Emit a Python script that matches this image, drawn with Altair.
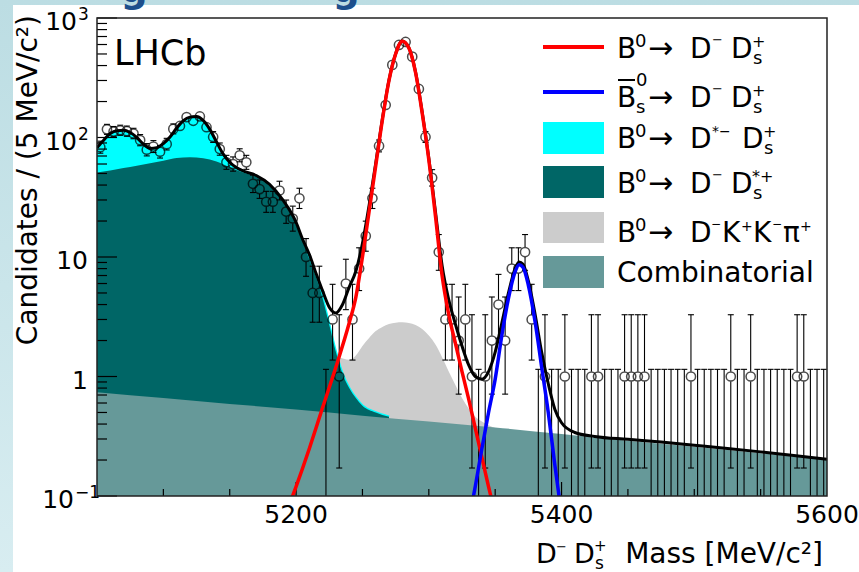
import math
import altair as alt
import pandas as pd

FONT = "DejaVu Sans"
W, H = 730, 478          # plot area
L, T = 97, 18            # plot origin on the page
PR, PB = 32, 76          # right / bottom padding

# ---------------- data ----------------
bin_width = 5
first_center = 5052.5
counts = [83, 117, 112, 115, 113, 108, 95, 79, 84, 76,
          88, 118, 125, 148, 138, 150, 122, 101, 80, 62,
          60, 71, 62, 41, 37, 29, 29, 36, 24, 21,
          31, 10, 5, 5, 0, 3, 1, 6, 3, 8,
          15, 31, 85, 187, 405, 595, 630, 475, 255, 101,
          46, 11, 3, 3, 2, 3, 1, 0, 1, 2,
          4, 2, 8, 8, 11, 3, 0, 1, 0, 0,
          1, 0, 0, 0, 1, 1, 0, 0, 0, 1,
          1, 1, 1, 0, 0, 0, 0, 0, 0, 1,
          0, 0, 0, 0, 0, 1, 0, 0, 1, 0,
          0, 0, 0, 0, 0, 1, 1, 0, 0, 0]

comb_m = [5050, 5100, 5150, 5200, 5250, 5300, 5350, 5400, 5450, 5500, 5550, 5600]
comb_v = [0.74, 0.66, 0.59, 0.53, 0.47, 0.42, 0.375, 0.33, 0.29, 0.258, 0.228, 0.2]

dsstar_m = [5050, 5060, 5070, 5080, 5090, 5100, 5110, 5120, 5130, 5140, 5150, 5160, 5170, 5180, 5190,
            5195, 5200, 5205, 5210, 5215, 5220, 5225, 5230, 5235, 5240, 5245, 5250, 5260, 5270]
dsstar_v = [51, 53, 55.5, 58, 61, 64, 67.5, 68.5, 67, 63, 56.5, 51, 46.5, 39, 29,
            24, 18.5, 13.5, 9.5, 6.8, 4.5, 2.7, 1.6, 1.05, 0.8, 0.66, 0.57, 0.5, 0.46]

dstar_m = [5050, 5055, 5060, 5065, 5070, 5075, 5080, 5085, 5090, 5095, 5100, 5105, 5110, 5115, 5120,
           5125, 5130, 5135, 5140, 5145, 5150, 5155, 5160, 5170, 5180, 5190, 5200, 5210, 5220, 5225]
dstar_v = [82, 95, 108, 114, 115, 110, 100, 88, 81, 82, 89, 101, 120, 138, 148,
           150, 139, 117, 92, 73, 62, 56, 52.5, 48, 40.5, 30, 19.2, 10, 4.8, 2.8]

kkpi_m = [5190, 5210, 5225, 5232, 5240, 5245, 5250, 5255, 5260, 5265, 5270, 5280, 5290, 5295, 5300,
          5305, 5310, 5315, 5320, 5325, 5330, 5335, 5340, 5345, 5350]
kkpi_v = [1.0, 1.4, 1.5, 1.45, 1.38, 1.5, 1.8, 2.1, 2.4, 2.6, 2.75, 2.85, 2.7, 2.5, 2.2,
          1.85, 1.45, 1.1, 0.85, 0.66, 0.54, 0.46, 0.42, 0.39, 0.37]

bd_m = [5195, 5200, 5210, 5220, 5230, 5240, 5245, 5250, 5255, 5260, 5265, 5270, 5275, 5280, 5285,
        5290, 5295, 5300, 5305, 5310, 5315, 5320, 5325, 5330, 5335, 5340, 5345, 5350]
bd_v = [0.085, 0.12, 0.25, 0.55, 1.2, 2.8, 4.6, 10, 24, 58, 140, 300, 500, 640, 560,
        350, 160, 65, 22, 7, 3.3, 1.9, 1.1, 0.65, 0.37, 0.21, 0.12, 0.07]

bs_m = [5332, 5335, 5340, 5345, 5350, 5355, 5360, 5365, 5368, 5371, 5375, 5380, 5385, 5390, 5395, 5400]
bs_v = [0.08, 0.12, 0.25, 0.5, 0.95, 2.2, 4.5, 7.5, 8.6, 8.2, 5.8, 2.9, 1.2, 0.5, 0.18, 0.07]

tot_m = [5050, 5055, 5060, 5065, 5070, 5075, 5080, 5085, 5090, 5095, 5100, 5105, 5110, 5115, 5120,
         5125, 5130, 5135, 5140, 5145, 5150, 5155, 5160, 5170, 5180, 5190,
         5200, 5205, 5210, 5215, 5220, 5225, 5230, 5235, 5240, 5245,
         5250, 5255, 5260, 5265, 5270, 5275, 5280, 5285, 5290, 5295,
         5300, 5305, 5310, 5315, 5320, 5325, 5330, 5335, 5340, 5345,
         5350, 5355, 5360, 5365, 5368, 5371, 5375, 5380, 5385, 5390, 5395, 5400,
         5410, 5425, 5450, 5475, 5500, 5525, 5550, 5575, 5600]
tot_v = [82, 95, 108, 114, 115, 110, 100, 88, 81, 82, 89, 101, 120, 138, 148,
         150, 139, 117, 92, 73, 62, 56, 52.5, 48, 40.5, 30,
         19.5, 14, 10.5, 7.3, 5.2, 3.8, 3.4, 4.0, 5.6, 7.6,
         13, 27, 61, 143, 303, 503, 643, 563, 353, 163,
         67, 24, 8.5, 4.4, 2.75, 1.8, 1.25, 1.0, 0.95, 1.1,
         1.6, 2.8, 5.0, 8.0, 9.1, 8.7, 6.3, 3.35, 1.6, 0.87, 0.53, 0.41,
         0.34, 0.315, 0.298, 0.283, 0.266, 0.25, 0.234, 0.218, 0.203]

x_labels = [5200, 5400, 5600]
x_major = [5200, 5400]
x_minor = [5100, 5150, 5250, 5300, 5350, 5450, 5500, 5550]
y_major = [0.1, 1, 10, 100, 1000]
y_minor = [d * s for d in (0.1, 1, 10, 100) for s in range(2, 10)]

# ---------------- scales ----------------
Y_MIN, Y_MAX = 0.1, 1000
xsc = alt.Scale(domain=[5050, 5600], nice=False, zero=False)
ysc = alt.Scale(type="log", domain=[Y_MIN, Y_MAX], nice=False)
X = lambda f: alt.X(f, type="quantitative", scale=xsc, axis=None)
Y = lambda f: alt.Y(f, type="quantitative", scale=ysc, axis=None, stack=None)
Y2 = lambda f: alt.Y2(f)

one = pd.DataFrame({"d": [0]})


def curve(ms, vs):
    return pd.DataFrame({"m": ms, "v": vs, "b": [Y_MIN] * len(ms)})


def poisson_interval(n):
    if n == 0:
        return 0.0, 1.148
    lo = n * (1 - 1 / (9 * n) - 1 / (3 * math.sqrt(n))) ** 3
    k = n + 1
    hi = k * (1 - 1 / (9 * k) + 1 / (3 * math.sqrt(k))) ** 3
    return lo, hi


GAP = 1.10   # marker radius in log units (visual gap for the open circle)
seg_rows, cap_rows, pt_rows = [], [], []
for i, n in enumerate(counts):
    m = first_center + bin_width * i
    lo, hi = poisson_interval(n)
    lo = max(lo, Y_MIN)
    if n == 0:
        seg_rows.append({"m": m, "a": Y_MIN, "b": hi})
        cap_rows.append({"m": m, "m2": m, "v": hi})
        continue
    pt_rows.append({"m": m, "v": n})
    if hi > n * GAP:
        seg_rows.append({"m": m, "a": n * GAP, "b": hi})
        cap_rows.append({"m": m, "m2": m, "v": hi})
    if lo < n / GAP:
        seg_rows.append({"m": m, "a": lo, "b": n / GAP})
        if lo > Y_MIN:
            cap_rows.append({"m": m, "m2": m, "v": lo})
segs = pd.DataFrame(seg_rows)
caps = pd.DataFrame(cap_rows)
pts = pd.DataFrame(pt_rows)

# ---------------- colours ----------------
C_CYAN = "#00ffff"
C_TEAL = "#006666"
C_GREY = "#cccccc"
C_COMB = "#669999"

layers = []

# page background (slide)
layers.append(alt.Chart(one).mark_rect(
    color=alt.Gradient(gradient="linear",
                       stops=[alt.GradientStop(color="#bcdde3", offset=0),
                              alt.GradientStop(color="#d8edf1", offset=1)],
                       x1=0, x2=0, y1=0, y2=1)).encode(
    x=alt.value(-L), x2=alt.value(W + PR), y=alt.value(-T), y2=alt.value(H + PB)))
layers.append(alt.Chart(one).mark_rect(color="white").encode(
    x=alt.value(13 - L), x2=alt.value(W + PR), y=alt.value(5 - T), y2=alt.value(H + PB)))
# cut-off slide title fragments
for gx in (134, 346):
    layers.append(alt.Chart(one).mark_text(text="g", font=FONT, fontSize=38, fontWeight="bold",
                                           color="#1d4f8c", align="center", baseline="alphabetic").encode(
        x=alt.value(gx - L), y=alt.value(2 - T)))


def area(ms, vs, color):
    return alt.Chart(curve(ms, vs)).mark_area(color=color, interpolate="monotone", clip=True,
                                              opacity=1).encode(
        x=X("m"), y=Y("v"), y2=Y2("b"))


def line(ms, vs, color, sw):
    return alt.Chart(curve(ms, vs)).mark_line(color=color, strokeWidth=sw, interpolate="monotone",
                                              clip=True).encode(x=X("m"), y=Y("v"))


layers.append(area(kkpi_m, kkpi_v, C_GREY))
layers.append(area(dstar_m, dstar_v, C_CYAN))
layers.append(line(dsstar_m, dsstar_v, C_CYAN, 2.5))   # thin cyan rim along the D_s*+ edge
layers.append(area(dsstar_m, dsstar_v, C_TEAL))
layers.append(area(comb_m, comb_v, C_COMB))

# ticks (inside the frame)
layers.append(alt.Chart(pd.DataFrame({"v": y_major})).mark_rule(color="black", strokeWidth=1.2).encode(
    y=Y("v"), x=alt.value(0), x2=alt.value(20)))
layers.append(alt.Chart(pd.DataFrame({"v": y_minor})).mark_rule(color="black", strokeWidth=1.2).encode(
    y=Y("v"), x=alt.value(0), x2=alt.value(10)))
layers.append(alt.Chart(pd.DataFrame({"m": x_major})).mark_rule(color="black", strokeWidth=1.2).encode(
    x=X("m"), y=alt.value(H), y2=alt.value(H - 14)))
layers.append(alt.Chart(pd.DataFrame({"m": x_minor})).mark_rule(color="black", strokeWidth=1.2).encode(
    x=X("m"), y=alt.value(H), y2=alt.value(H - 7)))

# data: error bars, caps, open circles
layers.append(alt.Chart(segs).mark_rule(color="black", strokeWidth=1.1, clip=True).encode(
    x=X("m"), y=Y("a"), y2=Y2("b")))
layers.append(alt.Chart(caps).mark_rule(color="black", strokeWidth=1.1, xOffset=-3, x2Offset=3).encode(
    x=X("m"), x2=alt.X2("m2"), y=Y("v")))
layers.append(alt.Chart(pts).mark_point(shape="circle", filled=False, size=85, color="black",
                                        strokeWidth=1.5, clip=True).encode(x=X("m"), y=Y("v")))

layers.append(line(tot_m, tot_v, "black", 3))
layers.append(line(bd_m, bd_v, "#ff0000", 3.5))
layers.append(line(bs_m, bs_v, "#0000ff", 3.5))

# frame
layers.append(alt.Chart(one).mark_rect(fillOpacity=0, stroke="#222222", strokeWidth=1.5).encode(
    x=alt.value(0), x2=alt.value(W), y=alt.value(0), y2=alt.value(H)))

# axis labels
layers.append(alt.Chart(pd.DataFrame({"m": x_labels, "t": [str(v) for v in x_labels]})).mark_text(
    font=FONT, fontSize=25, align="center", baseline="alphabetic", color="black").encode(
    x=X("m"), y=alt.value(H + 27), text="t:N"))
layers.append(alt.Chart(pd.DataFrame({"v": [1, 10], "t": ["1", "10"]})).mark_text(
    font=FONT, fontSize=25, align="right", baseline="alphabetic", dy=12, color="black").encode(
    y=Y("v"), x=alt.value(-9), text="t:N"))
layers.append(alt.Chart(pd.DataFrame({"v": [100, 1000], "t": ["10", "10"]})).mark_text(
    font=FONT, fontSize=25, align="right", baseline="alphabetic", dy=12, color="black").encode(
    y=Y("v"), x=alt.value(-20), text="t:N"))
layers.append(alt.Chart(pd.DataFrame({"v": [100, 1000], "t": ["2", "3"]})).mark_text(
    font=FONT, fontSize=17, align="left", baseline="alphabetic", dy=2, color="black").encode(
    y=Y("v"), x=alt.value(-19), text="t:N"))
layers.append(alt.Chart(pd.DataFrame({"v": [0.1], "t": ["10"]})).mark_text(
    font=FONT, fontSize=25, align="right", baseline="alphabetic", dy=12, color="black").encode(
    y=Y("v"), x=alt.value(-23), text="t:N"))
layers.append(alt.Chart(pd.DataFrame({"v": [0.1], "t": ["−1"]})).mark_text(
    font=FONT, fontSize=17, align="left", baseline="alphabetic", dy=2, color="black").encode(
    y=Y("v"), x=alt.value(-22), text="t:N"))


def txt(t, px, py, fs=28, align="left", angle=0):
    kw = {"angle": angle} if angle else {}
    return alt.Chart(one).mark_text(text=t, font=FONT, fontSize=fs, align=align, baseline="alphabetic",
                                    color="black", **kw).encode(x=alt.value(px - L), y=alt.value(py - T))


# axis titles
layers.append(txt("Candidates / (5 MeV/c²)", 37, 15, fs=28, align="right", angle=270))
layers.append(txt("D", 536, 563, fs=27))
layers.append(txt("−", 556, 551, fs=13))
layers.append(txt("D", 574, 563, fs=27))
layers.append(txt("+", 594, 551, fs=15))
layers.append(txt("s", 595, 569, fs=17))
layers.append(txt("Mass [MeV/c²]", 823, 563, fs=28, align="right"))

# LHCb label
layers.append(txt("LHCb", 114, 65, fs=35))

# legend samples
LX0, LX1 = 543, 604
layers.append(alt.Chart(one).mark_rule(color="#ff0000", strokeWidth=4).encode(
    x=alt.value(LX0 - L), x2=alt.value(LX1 - L), y=alt.value(47 - T)))
layers.append(alt.Chart(one).mark_rule(color="#0000ff", strokeWidth=4).encode(
    x=alt.value(LX0 - L), x2=alt.value(LX1 - L), y=alt.value(92 - T)))
for col, y0, y1 in [(C_CYAN, 122, 154), (C_TEAL, 166, 198), (C_GREY, 212, 243), (C_COMB, 256, 288)]:
    layers.append(alt.Chart(one).mark_rect(color=col).encode(
        x=alt.value(LX0 - L), x2=alt.value(LX1 - L), y=alt.value(y0 - T), y2=alt.value(y1 - T)))
# overline of B_s
layers.append(alt.Chart(one).mark_rule(color="black", strokeWidth=2).encode(
    x=alt.value(618 - L), x2=alt.value(635 - L), y=alt.value(80 - T)))

legend_text = [
    # row 1
    ("B", 617, 58, 28), ("0", 635, 47, 18), ("→", 648, 58, 30), ("D", 690, 58, 28),
    ("−", 712, 44, 13), ("D", 731, 58, 28), ("+", 752, 47, 16), ("s", 753, 64, 18),
    # row 2
    ("B", 617, 107, 28), ("0", 636, 86, 18), ("s", 636, 113, 18), ("→", 648, 107, 30),
    ("D", 690, 107, 28), ("−", 712, 93, 13), ("D", 731, 107, 28), ("+", 752, 96, 16), ("s", 753, 113, 18),
    # row 3
    ("B", 617, 148, 28), ("0", 635, 137, 18), ("→", 648, 148, 30), ("D", 690, 148, 28),
    ("*−", 712, 136, 14), ("D", 742, 148, 28), ("+", 763, 137, 16), ("s", 764, 154, 18),
    # row 4
    ("B", 617, 193, 28), ("0", 635, 182, 18), ("→", 648, 193, 30), ("D", 690, 193, 28),
    ("−", 712, 179, 13), ("D", 731, 193, 28), ("*+", 752, 182, 16), ("s", 753, 199, 18),
    # row 5
    ("B", 617, 242, 28), ("0", 635, 231, 18), ("→", 648, 242, 30), ("D", 690, 242, 28),
    ("−", 711, 228, 12), ("K", 722, 242, 28), ("+", 741, 231, 14), ("K", 753, 242, 28),
    ("−", 772, 228, 12), ("π", 783, 242, 28), ("+", 800, 231, 14),
    # row 6
    ("Combinatorial", 617, 282, 28),
]
for t, px, py, fs in legend_text:
    layers.append(txt(t, px, py, fs=fs))

chart = alt.layer(*layers).properties(
    width=W, height=H,
    padding={"left": L, "top": T, "right": PR, "bottom": PB},
    autosize=alt.AutoSizeParams(type="none"),
    background="#c4e2e8",
).configure_view(strokeWidth=0)

chart.save("out.html", embed_options={"renderer": "svg", "actions": False})
